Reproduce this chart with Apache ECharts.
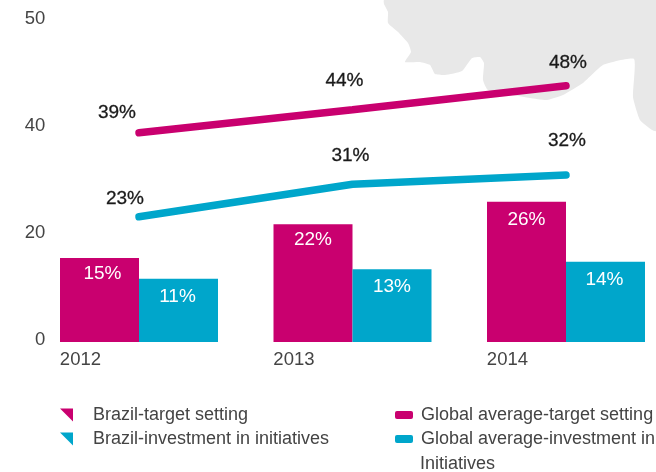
<!DOCTYPE html>
<html>
<head>
<meta charset="utf-8">
<style>
  html, body { margin: 0; padding: 0; background: #fff; }
  #chart { width: 656px; height: 472px; }
</style>
<script src="https://cdn.jsdelivr.net/npm/echarts@6/dist/echarts.min.js"></script>
</head>
<body>
<div id="chart"></div>
<script>
// ============ Data ============
const years = ['2012', '2013', '2014']
const yTickLabels = ['0', '20', '40', '50']

const brazilTarget = [15.7, 22, 26.2]
const brazilInvest = [11.8, 13.6, 15]
const globalTarget = [39.1, 43.4, 47.9]
const globalInvest = [23.4, 29.5, 31.2]

const brazilTargetLabels = ['15%', '22%', '26%']
const brazilInvestLabels = ['11%', '13%', '14%']
const globalTargetLabels = ['39%', '44%', '48%']
const globalInvestLabels = ['23%', '31%', '32%']

const NAME_BT = 'Brazil-target setting'
const NAME_BI = 'Brazil-investment in initiatives'
const NAME_GT = 'Global average-target setting'
const NAME_GI = 'Global average-investment in'

// ============ Styles ============
const MAGENTA = '#c9006f'
const BLUE = '#00a6cb'
const FONT = '"Liberation Sans", Arial, sans-serif'

// grey map shape behind the chart, decoration only
const mapShape = [
  [384, 0], [384, 4], [388, 12], [388, 23], [398, 32], [408, 43], [411, 52], [405, 62],
  [420, 62], [430, 65], [435, 74], [445, 75], [462, 71], [472, 58], [480, 57], [484, 63],
  [483, 80], [488, 90], [530, 98], [547, 100], [563, 95], [583, 83], [603, 65], [634, 59],
  [633, 97], [640, 120], [652, 130], [656, 131], [656, 0],
]

function barSeries(name, values, labels, color, offsets) {
  return {
    name,
    type: 'bar',
    barWidth: 79,
    barGap: 0,
    itemStyle: { color },
    z: 3,
    data: values.map((v, i) => ({
      value: v,
      label: {
        show: true,
        position: 'insideTop',
        distance: 5,
        offset: offsets[i],
        formatter: labels[i],
        color: '#fff',
        fontFamily: FONT,
        fontSize: 19,
      },
    })),
  }
}

function lineSeries(name, values, labels, color, offsets) {
  return {
    name,
    type: 'line',
    symbol: 'circle',
    symbolSize: 1,
    showSymbol: true,
    itemStyle: { color },
    lineStyle: { color, width: 7.5, cap: 'round' },
    z: 4,
    data: values.map((v, i) => ({
      value: v,
      label: {
        show: true,
        position: 'top',
        distance: 0,
        offset: offsets[i],
        formatter: labels[i],
        color: '#1a1a1a',
        fontFamily: FONT,
        fontSize: 19,
        textBorderColor: '#1a1a1a',
        textBorderWidth: 0.3,
      },
    })),
  }
}

const legendText = { color: '#444', fontFamily: FONT, fontSize: 18 }

const chart = echarts.init(document.getElementById('chart'), null, { renderer: 'canvas' })
chart.setOption({
  animation: false,
  backgroundColor: '#fff',
  grid: { left: 32.25, width: 640.5, top: 21, height: 321, outerBoundsMode: 'none' },
  xAxis: {
    type: 'category',
    data: years,
    axisLine: { show: false },
    axisTick: { show: false },
    axisLabel: {
      interval: 0,
      align: 'right',
      margin: 8,
      padding: [0, 38, 0, 0],
      color: '#444',
      fontFamily: FONT,
      fontSize: 18.5,
    },
  },
  yAxis: {
    type: 'value',
    min: 0,
    max: 60,
    interval: 20,
    offset: -13,
    axisLine: { show: false },
    axisTick: { show: false },
    splitLine: { show: false },
    axisLabel: {
      margin: 0,
      verticalAlign: 'bottom',
      lineHeight: 5,
      color: '#444',
      fontFamily: FONT,
      fontSize: 18.5,
      formatter: (v) => yTickLabels[v / 20],
    },
  },
  legend: [
    {
      left: 55,
      top: 401,
      orient: 'vertical',
      itemWidth: 13,
      itemHeight: 13,
      itemGap: 6,
      icon: 'path://M0 0L13 0L13 13Z',
      textStyle: { ...legendText, padding: [0, 0, 0, 15] },
      data: [NAME_BT, NAME_BI],
      selectedMode: false,
    },
    {
      left: 390,
      top: 401,
      orient: 'vertical',
      itemWidth: 18,
      itemHeight: 8,
      itemGap: 6,
      icon: 'roundRect',
      textStyle: { ...legendText, padding: [0, 0, 0, 3] },
      data: [NAME_GT, NAME_GI],
      selectedMode: false,
    },
  ],
  graphic: [
    {
      type: 'polygon',
      z: -1,
      silent: true,
      shape: { points: mapShape, smooth: 0.15 },
      style: { fill: '#e8e8e8' },
    },
    {
      type: 'text',
      left: 420,
      top: 455,
      style: { text: 'Initiatives', fill: '#444', font: '18px ' + FONT },
    },
  ],
  series: [
    barSeries(NAME_BT, brazilTarget, brazilTargetLabels, MAGENTA, [[3, 1], [0, 1], [0, 3]]),
    barSeries(NAME_BI, brazilInvest, brazilInvestLabels, BLUE, [[-1, 3], [0, 3], [-1, 4]]),
    lineSeries(NAME_GT, globalTarget, globalTargetLabels, MAGENTA, [[-22, -10], [-8, -19], [2, -13]]),
    lineSeries(NAME_GI, globalInvest, globalInvestLabels, BLUE, [[-14, -8], [-2, -18], [1, -24]]),
  ],
})
</script>
</body>
</html>
